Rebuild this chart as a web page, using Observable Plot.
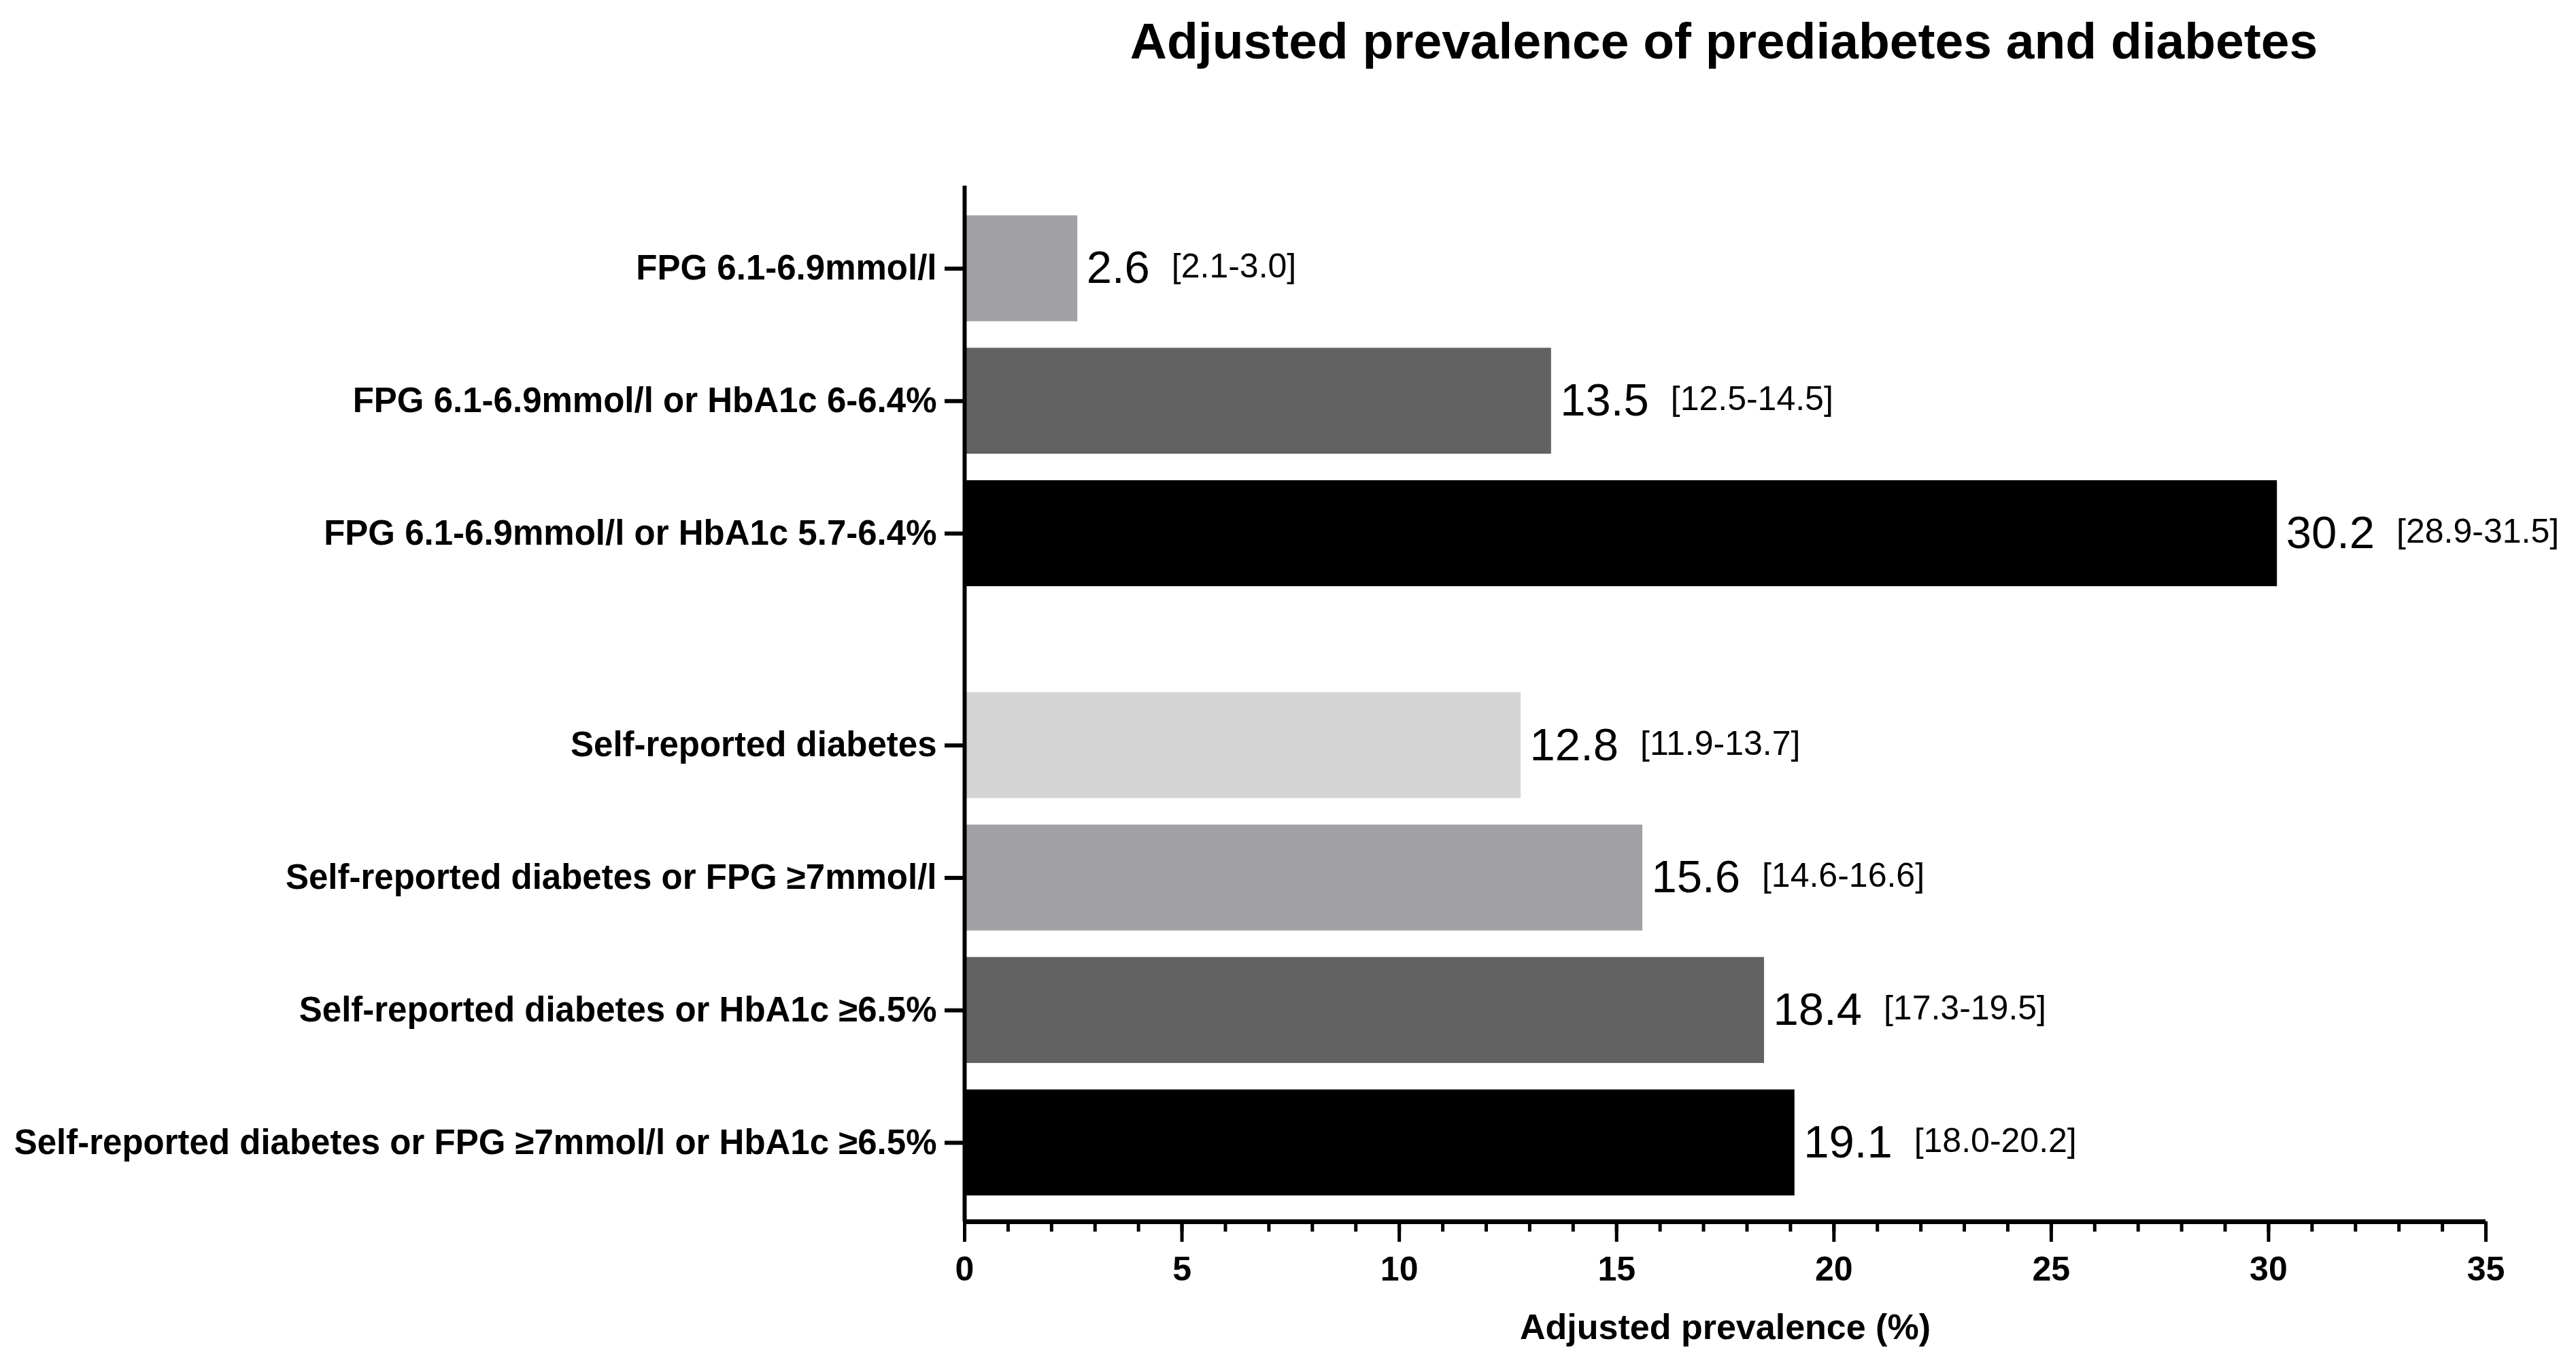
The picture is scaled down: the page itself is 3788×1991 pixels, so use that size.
<!DOCTYPE html>
<html>
<head>
<meta charset="utf-8">
<script src="https://cdn.jsdelivr.net/npm/d3@7"></script>
<script src="https://cdn.jsdelivr.net/npm/@observablehq/plot@0.6"></script>
<style>
  html, body { margin: 0; padding: 0; background: #fff; }
  #title {
    box-sizing: border-box; width: 3788px; height: 120px; line-height: 120px;
    padding-left: 1282px; text-align: center;
    font-family: "Liberation Sans", Arial, sans-serif; font-weight: bold; font-size: 75px; color: #000;
  }
  svg g[aria-label="y-axis tick label"], svg g[aria-label="x-axis tick label"] { font-weight: bold; }
</style>
</head>
<body>
<div id="title">Adjusted prevalence of prediabetes and diabetes</div>
<div id="chart"></div>
<script>
// ---- data ----
const categories = [
  "FPG 6.1-6.9mmol/l",
  "FPG 6.1-6.9mmol/l or HbA1c 6-6.4%",
  "FPG 6.1-6.9mmol/l or HbA1c 5.7-6.4%",
  "Self-reported diabetes",
  "Self-reported diabetes or FPG \u22657mmol/l",
  "Self-reported diabetes or HbA1c \u22656.5%",
  "Self-reported diabetes or FPG \u22657mmol/l or HbA1c \u22656.5%"
];
const groups = [1, 1, 1, 2, 2, 2, 2];
const prevalence = [2.6, 13.5, 30.2, 12.8, 15.6, 18.4, 19.1];
const ciLow = [2.1, 12.5, 28.9, 11.9, 14.6, 17.3, 18.0];
const ciHigh = [3.0, 14.5, 31.5, 13.7, 16.6, 19.5, 20.2];
const barColors = ["#a1a0a5", "#626262", "#000000", "#d4d4d4", "#a1a0a5", "#626262", "#000000"];
const xMajorTicks = [0, 5, 10, 15, 20, 25, 30, 35];
const xMinorTicks = d3.range(0, 36, 1);
const xLabel = "Adjusted prevalence (%)";

// ---- layout constants ----
const GROUP_GAP = 0.6;   // extra spacing between the two groups (in bar steps)
const HALF_BAR = 0.4;    // half bar thickness (in bar steps)

const rows = categories.map((label, i) => ({
  label,
  pos: i + (groups[i] === 2 ? GROUP_GAP : 0),
  value: prevalence[i],
  lo: ciLow[i],
  hi: ciHigh[i],
  color: barColors[i]
}));
const yDomain = [-0.624, 6.6 + 0.596];
const labelByPos = new Map(rows.map(d => [d.pos, d.label]));

const chart = Plot.plot({
  width: 3788,
  height: 1871,
  marginTop: 153,
  marginBottom: 195,
  marginLeft: 1418,
  marginRight: 133,
  style: { fontFamily: "'Liberation Sans', Arial, sans-serif", background: "#fff", color: "#000", overflow: "visible" },
  x: { domain: [0, 35] },
  y: { domain: yDomain, reverse: true },
  color: { type: "identity" },
  marks: [
    Plot.rect(rows, { x1: d => 0, x2: "value", y1: d => d.pos - HALF_BAR, y2: d => d.pos + HALF_BAR, fill: "color" }),
    Plot.text(rows, {
      x: "value", y: "pos", text: d => d.value.toFixed(1), dx: 13, textAnchor: "start",
      fontSize: 67, fill: "#000",
      render(index, scales, values, dimensions, context, next) {
        const g = next(index, scales, values, dimensions, context);
        g.querySelectorAll("text").forEach((t, j) => {
          const d = rows[index[j]];
          const ts = document.createElementNS("http://www.w3.org/2000/svg", "tspan");
          ts.setAttribute("font-size", "50");
          ts.setAttribute("dx", "32");
          ts.setAttribute("dy", "-8");
          ts.textContent = `[${d.lo.toFixed(1)}-${d.hi.toFixed(1)}]`;
          t.appendChild(ts);
        });
        return g;
      }
    }),
    Plot.axisY({
      ticks: rows.map(d => d.pos), tickFormat: p => labelByPos.get(p),
      tickSize: 29, tickPadding: 12, fontSize: 51, fontWeight: "bold", strokeWidth: 6, label: null
    }),
    Plot.axisX({ ticks: xMinorTicks, tickSize: 15, strokeWidth: 5, fill: "none", label: null }),
    Plot.axisX({
      ticks: xMajorTicks, tickFormat: d => String(d), tickSize: 30, tickPadding: 21,
      fontSize: 50, fontWeight: "bold", strokeWidth: 5, label: null
    }),
    Plot.ruleX([0], { strokeWidth: 6 }),
    Plot.ruleY([yDomain[1]], { strokeWidth: 7 }),
    Plot.text([xLabel], { frameAnchor: "bottom", text: d => d, dy: 136, lineAnchor: "top", fontSize: 52, fontWeight: "bold" })
  ]
});
document.getElementById("chart").appendChild(chart);
</script>
</body>
</html>
